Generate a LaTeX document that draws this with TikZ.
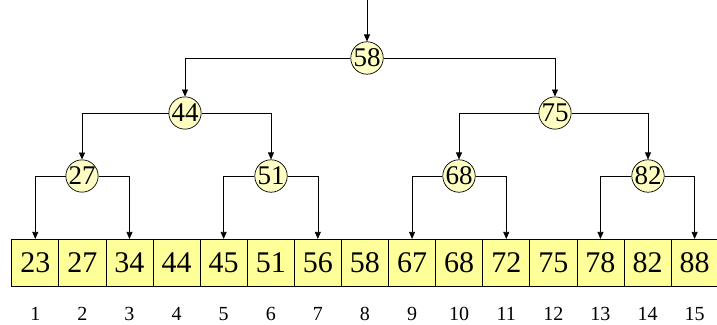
\documentclass[tikz,border=0pt]{standalone}
\usepackage{fontspec}
\setmainfont{Liberation Serif}
\usetikzlibrary{arrows.meta}
\definecolor{cellyellow}{HTML}{FFFF99}
\definecolor{keyyellow}{HTML}{FFFFC4}
\tikzset{
  key/.style={circle, draw, fill=keyyellow, minimum size=32pt, inner sep=0pt, font=\fontsize{27}{27}\selectfont},
  cell/.style={draw, fill=cellyellow, minimum width=47.1pt, minimum height=47.5pt, inner sep=0pt, font=\fontsize{30}{30}\selectfont},
  idx/.style={font=\fontsize{20}{20}\selectfont},
  link/.style={-{Triangle[length=7pt,width=6pt]}, line width=0.7pt}
}
\begin{document}
\begin{tikzpicture}[x=1pt, y=-1pt, line width=0.7pt]
  \useasboundingbox (0,0) rectangle (717,324);
  % sorted array with positions
  \foreach \v [count=\i] in {23,27,34,44,45,51,56,58,67,68,72,75,78,82,88} {
    \node [cell] (c\i) at ({11.7+47.1*(\i-0.5)}, 263) {\v};
    \node [idx] (i\i) at ({11.7+47.1*(\i-0.5)}, 314) {\i};
  }
  % search tree
  \coordinate (top) at (367,0);
  \node [key] (r) at (367,58) {58};
  \node [key] (a) at (185,113) {44};
  \node [key] (b) at (555,113) {75};
  \node [key] (aa) at (82,176) {27};
  \node [key] (ab) at (271,176) {51};
  \node [key] (ba) at (459,176) {68};
  \node [key] (bb) at (648,176) {82};
  \draw [link] (top) -- (r);
  \draw [link] (r) -| (a);
  \draw [link] (r) -| (b);
  \draw [link] (a) -| (aa);
  \draw [link] (a) -| (ab);
  \draw [link] (b) -| (ba);
  \draw [link] (b) -| (bb);
  \draw [link] (aa) -| (c1);
  \draw [link] (aa) -| (c3);
  \draw [link] (ab) -| (c5);
  \draw [link] (ab) -| (c7);
  \draw [link] (ba) -| (c9);
  \draw [link] (ba) -| (c11);
  \draw [link] (bb) -| (c13);
  \draw [link] (bb) -| (c15);
\end{tikzpicture}
\end{document}
